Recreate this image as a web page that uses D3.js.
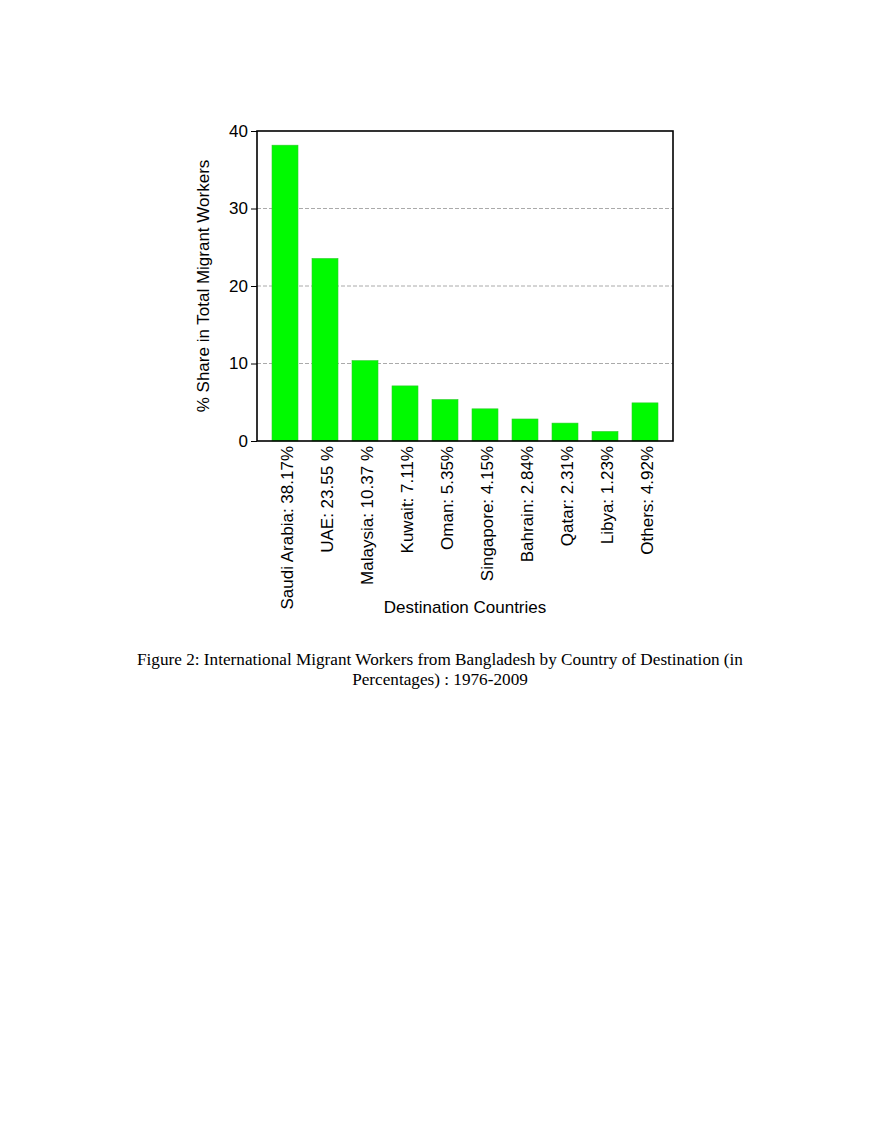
<!DOCTYPE html>
<html lang="en">
<head>
<meta charset="utf-8">
<title>Migrant Workers by Destination</title>
<script src="https://cdn.jsdelivr.net/npm/d3@7"></script>
<style>
    body { margin: 0; background: #fff; }
    text { font-family: "Liberation Sans", Arial, sans-serif; fill: #000; }
    text.caption { font-family: "Liberation Serif", "Times New Roman", serif; }
</style>
</head>
<body>
<script>
// data
var countries = ["Saudi Arabia: 38.17%", "UAE: 23.55 %", "Malaysia: 10.37 %", "Kuwait: 7.11%",
                 "Oman: 5.35%", "Singapore: 4.15%", "Bahrain: 2.84%", "Qatar: 2.31%",
                 "Libya: 1.23%", "Others: 4.92%"];
var shares = [38.17, 23.55, 10.37, 7.11, 5.35, 4.15, 2.84, 2.31, 1.23, 4.92];
var yTicks = [0, 10, 20, 30, 40];

var w = 880, h = 1139;
// plot frame (avoid the name "top", it is window.top)
var pLeft = 257, pRight = 673, pTop = 131, pBottom = 441;
var fs = "17px";

var svg = d3.select("body").append("svg")
    .attr("width", w).attr("height", h);

var x = d3.scaleBand().domain(countries)
    .range([265, 665]).paddingInner(0.35).paddingOuter(0.175);
var y = d3.scaleLinear().domain([0, 40]).range([pBottom, pTop]);

// gridlines
svg.selectAll("line.grid")
    .data(yTicks.filter(function(d) { return d > 0 && d < 40; }))
    .enter().append("line")
    .attr("class", "grid")
    .attr("x1", pLeft).attr("x2", pRight)
    .attr("y1", function(d) { return y(d); })
    .attr("y2", function(d) { return y(d); })
    .attr("stroke", "#aaaaaa")
    .attr("stroke-dasharray", "4,2")
    .attr("stroke-width", 1);

// bars
svg.selectAll("rect.bar")
    .data(shares)
    .enter().append("rect")
    .attr("class", "bar")
    .attr("x", function(d, i) { return x(countries[i]); })
    .attr("width", x.bandwidth())
    .attr("y", function(d) { return y(d); })
    .attr("height", function(d) { return y(0) - y(d); })
    .attr("fill", "#00fa00")
    .attr("stroke", "#2ccc2c")
    .attr("stroke-width", 0.6);

// frame
svg.append("rect")
    .attr("x", pLeft).attr("y", pTop)
    .attr("width", pRight - pLeft).attr("height", pBottom - pTop)
    .attr("fill", "none").attr("stroke", "#000").attr("stroke-width", 1.6);

// y axis
var yAxis = d3.axisLeft(y).tickValues(yTicks).tickSize(6).tickPadding(3);
var gy = svg.append("g").attr("transform", "translate(" + pLeft + ",0)").call(yAxis);
gy.select(".domain").remove();
gy.selectAll("text").style("font-size", fs).style("font-family", "Liberation Sans, Arial, sans-serif");
gy.selectAll("line").attr("stroke", "#000");

// x labels, rotated
svg.selectAll("text.xlab")
    .data(countries)
    .enter().append("text")
    .attr("class", "xlab")
    .attr("transform", function(d) {
        return "translate(" + (x(d) + x.bandwidth() / 2 + 2) + "," + (pBottom + 5) + ") rotate(-90)";
    })
    .attr("text-anchor", "end")
    .attr("dy", "0.35em")
    .style("font-size", fs)
    .text(function(d) { return d; });

// axis titles
svg.append("text")
    .attr("transform", "translate(209," + ((pTop + pBottom) / 2) + ") rotate(-90)")
    .attr("text-anchor", "middle")
    .style("font-size", fs)
    .text("% Share in Total Migrant Workers");

svg.append("text")
    .attr("x", 465).attr("y", 613)
    .attr("text-anchor", "middle")
    .style("font-size", fs)
    .text("Destination Countries");

// caption
svg.append("text").attr("class", "caption")
    .attr("x", 440).attr("y", 665)
    .attr("text-anchor", "middle")
    .style("font-size", "17.2px")
    .text("Figure 2: International Migrant Workers from Bangladesh by Country of Destination (in");
svg.append("text").attr("class", "caption")
    .attr("x", 440).attr("y", 685)
    .attr("text-anchor", "middle")
    .style("font-size", "17.2px")
    .text("Percentages) : 1976-2009");
</script>
</body>
</html>
